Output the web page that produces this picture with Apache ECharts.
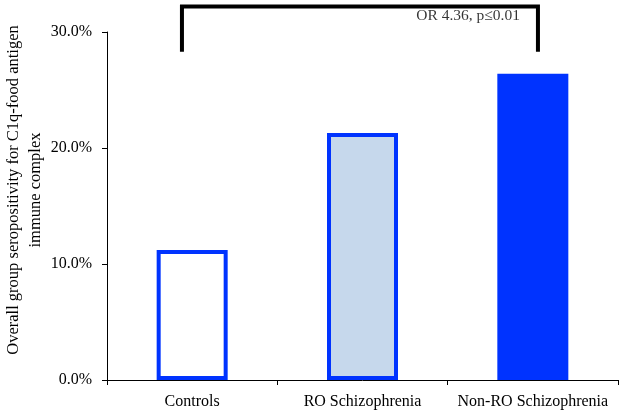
<!DOCTYPE html>
<html><head><meta charset="utf-8">
<script src="https://cdn.jsdelivr.net/npm/echarts@6/dist/echarts.min.js"></script>
<style>html,body{margin:0;padding:0;background:#fff}#c{width:624px;height:416px}</style>
</head><body><div id="c"></div>
<script>
var categories = ['Controls', 'RO Schizophrenia', 'Non-RO Schizophrenia'];
var values = [11.2, 21.3, 26.4];
var fills = ['#FFFFFF', '#C6D8EC', '#0033FF'];
var yTicks = [0, 10, 20, 30];
var bracketX = [0.44, 2.53];
var bracketY = [28.3, 32.2];
var annotText = 'OR 4.36, p\u22640.01';
var annotPos = [2.12, 31.4];

var font = 'Liberation Serif';
var chart = echarts.init(document.getElementById('c'));
chart.setOption({
  animation: false,
  grid: {left: 107, right: 6, top: 32, bottom: 36, containLabel: false, outerBoundsMode: 'none'},
  xAxis: [{
    type: 'category', data: categories,
    axisLine: {lineStyle: {color: '#000', width: 1}},
    axisTick: {show: true, length: 5, lineStyle: {color: '#000'}},
    axisLabel: {color: '#000', fontFamily: font, fontSize: 16, margin: 14, interval: 0}
  }, {
    type: 'value', min: 0, max: 3, show: false
  }],
  yAxis: {
    type: 'value', min: yTicks[0], max: yTicks[yTicks.length - 1], interval: 10,
    name: 'Overall group seropositivity for C1q-food antigen\nimmune complex',
    nameLocation: 'middle', nameRotate: 90, nameGap: 60, nameMoveOverlap: false,
    nameTextStyle: {color: '#000', fontFamily: font, fontSize: 16.5, lineHeight: 22, padding: [0, 0, 0, 32]},
    axisLine: {show: true, lineStyle: {color: '#000', width: 1}},
    axisTick: {show: true, length: 5, lineStyle: {color: '#000'}},
    splitLine: {show: false},
    axisLabel: {color: '#000', fontFamily: font, fontSize: 16, margin: 15,
      formatter: function (v) { return v.toFixed(1) + '%'; }}
  },
  series: [{
    type: 'bar', barWidth: 71,
    data: values.map(function (v, i) {
      return {value: v, itemStyle: {color: fills[i], borderColor: '#0033FF', borderWidth: 4}};
    })
  }, {
    type: 'line', xAxisIndex: 1, clip: false, symbol: 'none',
    lineStyle: {color: '#000', width: 4, join: 'miter'},
    data: [[bracketX[0], bracketY[0]], [bracketX[0], bracketY[1]], [bracketX[1], bracketY[1]], [bracketX[1], bracketY[0]]]
  }, {
    type: 'scatter', xAxisIndex: 1, clip: false, symbolSize: 0,
    label: {show: true, position: 'inside', formatter: annotText, color: '#000', fontFamily: font, fontSize: 15.5},
    data: [annotPos]
  }]
});
</script></body></html>
